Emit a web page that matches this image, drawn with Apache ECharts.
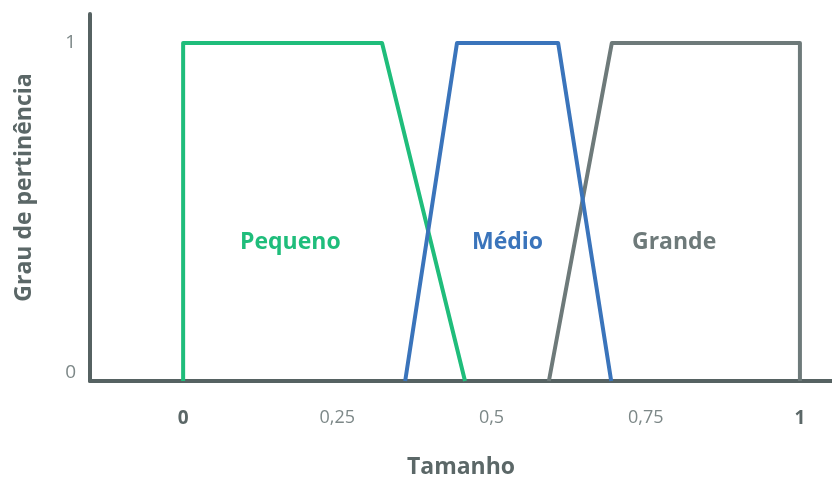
<!DOCTYPE html>
<html>
<head>
<meta charset="utf-8">
<script src="https://cdn.jsdelivr.net/npm/echarts@6/dist/echarts.min.js"></script>
<style>html,body{margin:0;padding:0;background:#fff}#c{width:832px;height:482px}</style>
</head>
<body>
<div id="c"></div>
<script>
const xTickValues = [0, 0.25, 0.5, 0.75, 1];
const xTickLabels = ['0', '0,25', '0,5', '0,75', '1'];
const yTickValues = [0, 1];
const yTickLabels = ['0', '1'];
const pequeno = [[0, 0], [0, 1], [0.3225, 1], [0.457, 0]];
const medio = [[0.36, 0], [0.444, 1], [0.608, 1], [0.694, 0]];
const grande = [[0.593, 0], [0.695, 1], [1, 1], [1, 0]];
const seriesNames = ['Pequeno', 'Médio', 'Grande'];

const FONT = 'Open Sans';
const cGreen = '#1fbd7b', cBlue = '#3a74bb', cGrey = '#6e7a7a', cAxis = '#566262', cText = '#5b6767';

const chart = echarts.init(document.getElementById('c'));
function lineSeries(name, data, color, z) {
  return {
    name, type: 'line', data, symbol: 'none', z,
    lineStyle: { color, width: 4, join: 'round' }, animation: false
  };
}
chart.setOption({
  animation: false,
  textStyle: { fontFamily: FONT },
  grid: { left: 90, right: 0, top: 14, bottom: 101, containLabel: false, outerBoundsMode: 'none' },
  xAxis: {
    type: 'value', min: -0.151, max: 1.052, z: 1,
    name: 'Tamanho', nameLocation: 'middle', nameGap: 75,
    nameTextStyle: { fontSize: 23, fontWeight: 'bold', color: cText, fontFamily: FONT },
    axisLine: { show: true, onZero: false, lineStyle: { color: cAxis, width: 4 } },
    axisTick: { show: false },
    splitLine: { show: false },
    axisLabel: {
      customValues: xTickValues, margin: 28,
      formatter: v => {
        const i = xTickValues.findIndex(t => Math.abs(t - v) < 1e-9);
        if (i < 0) return '';
        return (i === 0 || i === xTickValues.length - 1) ? '{b|' + xTickLabels[i] + '}' : '{n|' + xTickLabels[i] + '}';
      },
      rich: {
        b: { fontSize: 19, fontWeight: 'bold', color: cText, fontFamily: FONT },
        n: { fontSize: 18, color: '#7d8888', fontFamily: FONT }
      }
    }
  },
  yAxis: {
    type: 'value', min: 0, max: 1.086,
    name: 'Grau de pertinência', nameLocation: 'middle', nameGap: 54,
    nameTextStyle: { fontSize: 23, fontWeight: 'bold', color: cText, fontFamily: FONT, padding: [0, 0, 0, 20] },
    axisLine: { show: true, onZero: false, lineStyle: { color: cAxis, width: 4 } },
    axisTick: { show: false },
    splitLine: { show: false },
    axisLabel: {
      customValues: yTickValues, margin: 14,
      formatter: v => {
        const i = yTickValues.findIndex(t => Math.abs(t - v) < 1e-9);
        if (i < 0) return '';
        return i === 0 ? '{z|' + yTickLabels[i] + '}' : '{o|' + yTickLabels[i] + '}';
      },
      rich: {
        z: { fontSize: 19, color: '#7d8888', fontFamily: FONT, padding: [0, 0, 16, 0] },
        o: { fontSize: 19, color: '#7d8888', fontFamily: FONT }
      }
    }
  },
  graphic: [
    { type: 'text', left: 240, top: 231, style: { text: seriesNames[0], fontSize: 23, fontWeight: 'bold', fill: cGreen, fontFamily: FONT } },
    { type: 'text', left: 472, top: 231, style: { text: seriesNames[1], fontSize: 23, fontWeight: 'bold', fill: cBlue, fontFamily: FONT } },
    { type: 'text', left: 632, top: 231, style: { text: seriesNames[2], fontSize: 23, fontWeight: 'bold', fill: cGrey, fontFamily: FONT } }
  ],
  series: [
    lineSeries(seriesNames[0], pequeno, cGreen, 2),
    lineSeries(seriesNames[2], grande, cGrey, 3),
    lineSeries(seriesNames[1], medio, cBlue, 4)
  ]
});
</script>
</body>
</html>
